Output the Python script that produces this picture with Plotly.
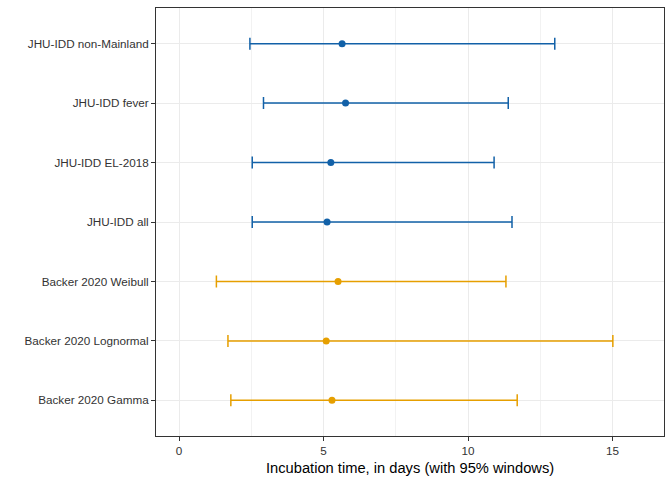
import plotly.graph_objects as go

categories = ["Backer 2020 Gamma", "Backer 2020 Lognormal", "Backer 2020 Weibull",
              "JHU-IDD all", "JHU-IDD EL-2018", "JHU-IDD fever", "JHU-IDD non-Mainland"]
mid = [5.29, 5.09, 5.50, 5.12, 5.25, 5.76, 5.64]
low = [1.79, 1.69, 1.29, 2.53, 2.53, 2.92, 2.45]
high = [11.70, 15.01, 11.31, 11.52, 10.90, 11.39, 13.00]
source = ["Backer", "Backer", "Backer", "JHU", "JHU", "JHU", "JHU"]
colors = {"Backer": "#E69F00", "JHU": "#1261A8"}
x_title = "Incubation time, in days (with 95% windows)"

fig = go.Figure()
for grp in ["Backer", "JHU"]:
    idx = [i for i, s in enumerate(source) if s == grp]
    fig.add_trace(go.Scatter(
        x=[mid[i] for i in idx],
        y=[categories[i] for i in idx],
        mode="markers",
        marker=dict(color=colors[grp], size=7),
        error_x=dict(type="data", symmetric=False,
                     array=[high[i] - mid[i] for i in idx],
                     arrayminus=[mid[i] - low[i] for i in idx],
                     color=colors[grp], thickness=1.5, width=6),
        showlegend=False,
    ))

fig.update_layout(
    width=672, height=480,
    margin=dict(l=156, r=8, t=8, b=44),
    paper_bgcolor="white", plot_bgcolor="white",
    font=dict(family="Liberation Sans, Arial, sans-serif", color="#333333", size=11.7),
)
fig.add_annotation(text=x_title, xref="paper", yref="paper", x=0.5, y=-0.052,
                   xanchor="center", yanchor="top", showarrow=False,
                   font=dict(size=14.7, color="black"))
fig.update_xaxes(
    range=[-0.8, 16.78], tickvals=[0, 5, 10, 15], ticktext=["0", "5", "10", "15"],
    showgrid=True, gridcolor="#EBEBEB", gridwidth=1.1,
    minor=dict(tickvals=[2.5, 7.5, 12.5], showgrid=True, gridcolor="#F2F2F2", gridwidth=0.8),
    ticks="outside", ticklen=4, tickcolor="#333333", tickwidth=1,
    showline=True, linecolor="#333333", linewidth=1, mirror=True,
    zeroline=False, automargin=False,
)
fig.update_yaxes(
    type="category", categoryorder="array", categoryarray=categories,
    range=[-0.6, 6.6],
    showgrid=True, gridcolor="#EBEBEB", gridwidth=1.1,
    ticks="outside", ticklen=4, tickcolor="#333333", tickwidth=1,
    showline=True, linecolor="#333333", linewidth=1, mirror=True,
    zeroline=False, automargin=False,
)

fig.write_html("out.html", config={"displayModeBar": False},
               post_script="document.body.style.margin='0';")
